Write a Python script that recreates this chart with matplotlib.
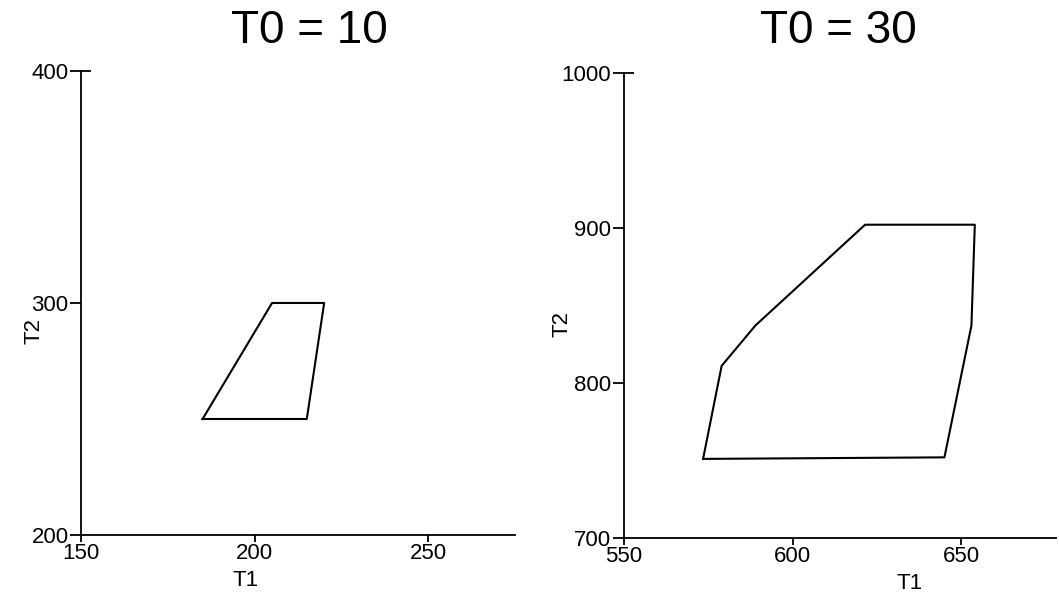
import matplotlib
matplotlib.use("Agg")
import matplotlib.pyplot as plt

plt.rcParams['font.family'] = ['Liberation Sans', 'DejaVu Sans']

# T0 = 10 region (T1, T2 vertices)
t1_a = [185, 215, 220, 205, 185]
t2_a = [250, 250, 300, 300, 250]

# T0 = 30 region
t1_b = [573.5, 645, 653, 654, 621.5, 589, 579, 573.5]
t2_b = [751, 752, 837, 902, 902, 837, 811, 751]

titles = ["T0 = 10", "T0 = 30"]
xlims = [(150, 275), (550, 678)]
ylims = [(200, 400), (700, 1000)]
xticks = [[150, 200, 250], [550, 600, 650]]
yticks = [[200, 300, 400], [700, 800, 900, 1000]]

fig = plt.figure(figsize=(10.59, 5.95), dpi=100)
ax1 = fig.add_axes([0.0765, 0.1008, 0.410, 0.780])
ax2 = fig.add_axes([0.589, 0.0958, 0.408, 0.782])

data = [(t1_a, t2_a), (t1_b, t2_b)]
xlab_pos = [0.378, 0.662]
ylab_pos = [(-0.085, 0.44), (-0.118, 0.46)]
title_x = [309 / 1059, 838 / 1059]

for i, ax in enumerate([ax1, ax2]):
    x, y = data[i]
    ax.plot(x, y, color='black', lw=1.5)
    ax.set_xlim(*xlims[i])
    ax.set_ylim(*ylims[i])
    ax.set_xticks(xticks[i])
    ax.set_yticks(yticks[i])
    # little cap at the top of the y axis
    ax.yaxis.remove_overlapping_locs = False
    ax.set_yticks([ylims[i][1]], minor=True)
    ax.tick_params(axis='y', which='minor', direction='in', length=7, width=1.3)
    ax.tick_params(axis='x', which='major', direction='out', length=5, width=1.3,
                   pad=1, labelsize=16)
    ax.tick_params(axis='y', which='major', direction='out', length=8, width=1.3,
                   pad=1, labelsize=16)
    for s in ['top', 'right']:
        ax.spines[s].set_visible(False)
    for s in ['left', 'bottom']:
        ax.spines[s].set_linewidth(1.3)
    ax.set_xlabel('T1', fontsize=16)
    ax.set_ylabel('T2', fontsize=16)
    ax.xaxis.set_label_coords(xlab_pos[i], -0.076)
    ax.yaxis.set_label_coords(*ylab_pos[i])
    fig.text(title_x[i], 1 - 43 / 595, titles[i], fontsize=33,
             ha='center', va='baseline')

fig.savefig('out.png', dpi=100)
